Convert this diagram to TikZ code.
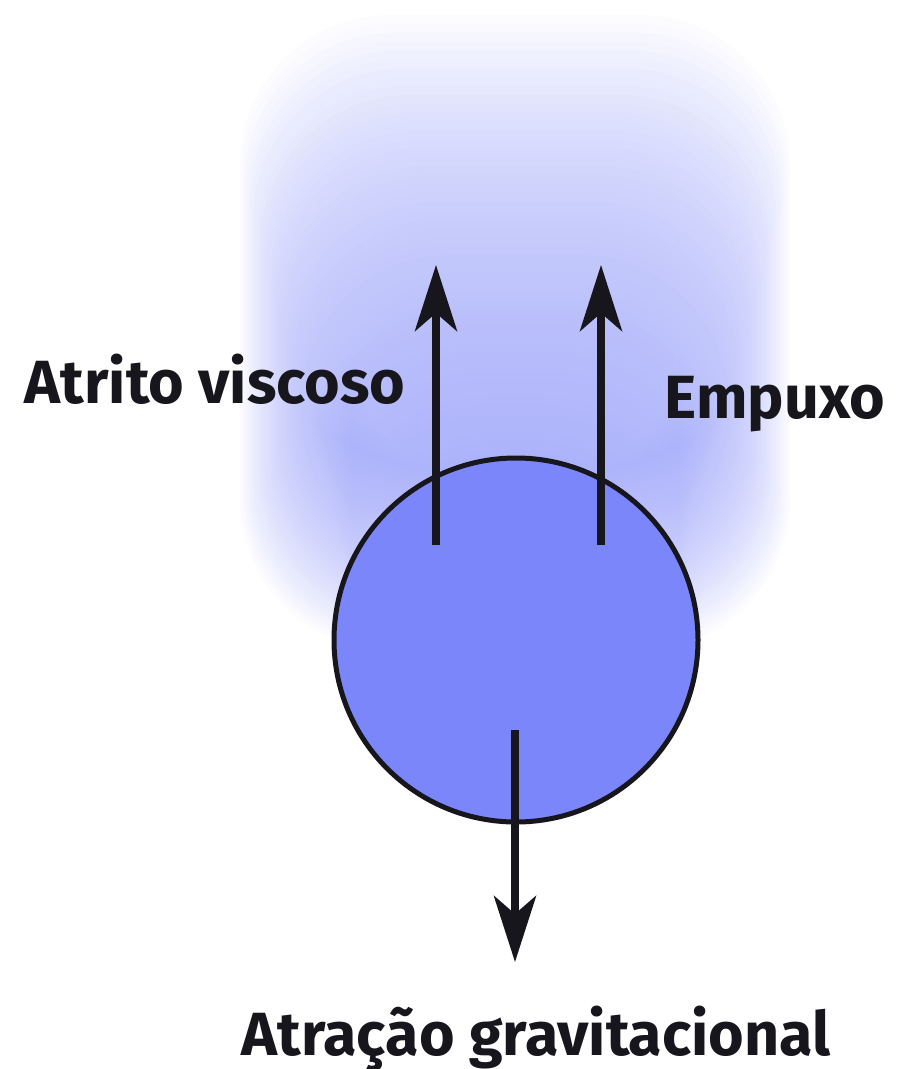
\documentclass[tikz,border=0pt]{standalone}
\usepackage{fontspec}
\setmainfont{Fira Sans}
\usepackage{tikz}
\usetikzlibrary{arrows.meta}
\definecolor{ballblue}{RGB}{122,134,250}
\definecolor{wakeblue}{RGB}{152,160,249}
\definecolor{inkblack}{RGB}{22,22,28}
\tikzset{
  ball/.style={circle, draw=inkblack, line width=2.5pt, fill=ballblue, minimum size=182pt, inner sep=0pt},
  force/.style={draw=inkblack, line width=4pt, -{Stealth[length=33pt, width=21pt, inset=9pt]}},
  forcename/.style={text=inkblack, font=\fontsize{30.5}{36}\selectfont\bfseries, inner sep=0pt}
}

\begin{document}
\begin{tikzpicture}[x=0.5pt, y=-0.5pt]
  \useasboundingbox (0,0) rectangle (900,1069);
  % blurred wake above the ball
  \foreach \k in {0,...,49} {
    \pgfmathsetmacro{\t}{\k/49}
    \fill[wakeblue, opacity=0.033, rounded corners=75pt]
      ({240+110*\t},{15+435*\t}) rectangle ({790-110*\t},{650-160*\t});
  }

  \node[ball] (ball) at (516,640) {};

  \coordinate (visc tail) at (436,545);
  \coordinate (visc head) at (436,265);
  \coordinate (push tail) at (601,545);
  \coordinate (push head) at (601,265);
  \coordinate (grav tail) at (515,730);
  \coordinate (grav head) at (515,962);

  \draw [force] (visc tail) -- (visc head);
  \draw [force] (push tail) -- (push head);
  \draw [force] (grav tail) -- (grav head);

  \node[forcename, anchor=base] (visc) at (215,403) {Atrito viscoso};
  \node[forcename, anchor=base] (push) at (775,418) {Empuxo};
  \node[forcename, anchor=base] (grav) at (536,1055) {Atração gravitacional};
\end{tikzpicture}
\end{document}
